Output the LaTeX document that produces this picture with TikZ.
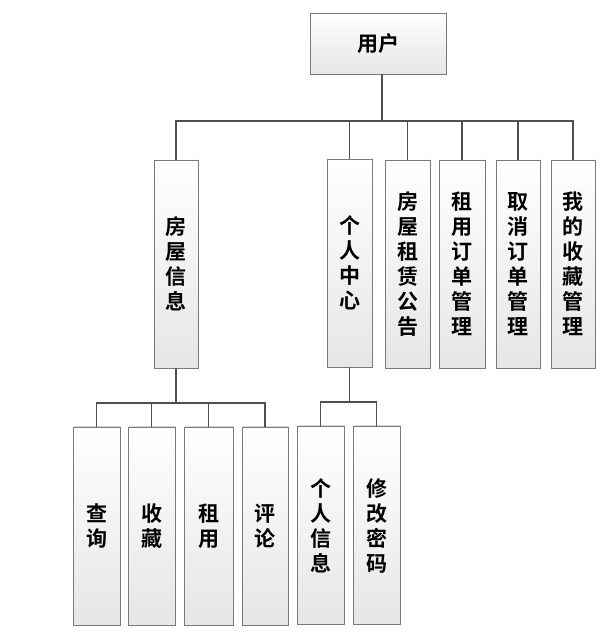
\documentclass[tikz,border=0pt]{standalone}
\usepackage{fontspec}
\newfontfamily\cjk{Noto Sans CJK SC}[BoldFont={* Bold}]
\usetikzlibrary{shadows}
\definecolor{linec}{HTML}{505050}
\definecolor{boxc}{HTML}{7A7A7A}
\definecolor{botc}{HTML}{E6E6E6}
\tikzset{
  box/.style={draw=boxc, line width=0.9pt, top color=white, bottom color=botc,
    inner sep=0pt, align=center,
    font=\cjk\bfseries\fontsize{21}{25}\selectfont,
    drop shadow={shadow xshift=1.2pt, shadow yshift=1.2pt, opacity=0.25, fill=black!60}},
  tall/.style={box, minimum width=44pt, minimum height=208pt},
  low/.style={box, minimum width=47pt, minimum height=198pt},
  conn/.style={draw=linec, line width=1.2pt}
}
\begin{document}
\begin{tikzpicture}[x=1pt,y=-1pt]
\useasboundingbox (0,0) rectangle (600,639);
\node[box, minimum width=136pt, minimum height=61pt] (top) at (378,43.5) {用户};
% level 2
\node[tall] (fwxx) at (176,264) {房\\屋\\信\\息};
\node[tall, minimum width=45pt] (grzx) at (349.5,263) {个\\人\\中\\心};
\node[tall, minimum width=45pt] (gg) at (407.5,264) {房\\屋\\租\\赁\\公\\告};
\node[tall, minimum width=46pt] (zy) at (462,264) {租\\用\\订\\单\\管\\理};
\node[tall] (qx) at (518,264) {取\\消\\订\\单\\管\\理};
\node[tall] (sc) at (573,264) {我\\的\\收\\藏\\管\\理};
% level 3
\node[low] (cx) at (96.5,526) {查\\询};
\node[low] (scz) at (151.5,526) {收\\藏};
\node[low, minimum width=49pt] (zyy) at (208.5,526) {租\\用};
\node[low, minimum width=46pt] (pl) at (265,526) {评\\论};
\node[low] (grxx) at (320.5,525.5) {个\\人\\信\\息};
\node[low] (xgmm) at (376.5,525.5) {修\\改\\密\\码};
% buses
\coordinate (b1) at (0,121);
\coordinate (b2) at (0,403);
\coordinate (b3) at (0,402);
\coordinate (t1) at ([xshift=4pt]top.south);
\draw[conn] (t1) -- (t1 |- b1);
\foreach \c in {fwxx,grzx,gg,zy,qx,sc}
  \draw[conn] (\c.north) -- (\c.north |- b1) -- (t1 |- b1);
\draw[conn] (fwxx.south) -- (fwxx.south |- b2);
\foreach \c in {cx,scz,zyy,pl}
  \draw[conn] (\c.north) -- (\c.north |- b2) -- (fwxx.south |- b2);
\draw[conn] (grzx.south) -- (grzx.south |- b3);
\foreach \c in {grxx,xgmm}
  \draw[conn] (\c.north) -- (\c.north |- b3) -- (grzx.south |- b3);
\end{tikzpicture}
\end{document}
